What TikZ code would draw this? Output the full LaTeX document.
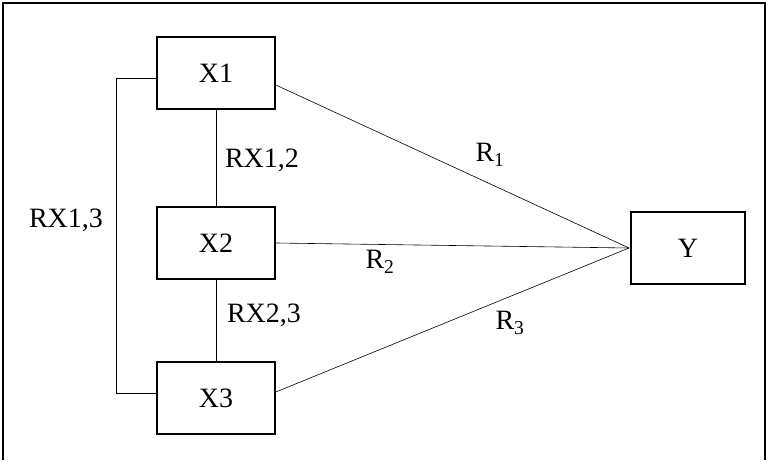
\documentclass[tikz,border=0pt]{standalone}
\usepackage{fontspec}
\setmainfont{Liberation Serif}
\begin{document}
\begin{tikzpicture}[x=1pt,y=-1pt,
  box/.style={draw,line width=1.6pt,minimum width=118pt,minimum height=72pt,font=\fontsize{28}{32}\selectfont},
  lbl/.style={font=\fontsize{28}{32}\selectfont},
  conn/.style={draw,line width=0.6pt}]
\useasboundingbox (0,0) rectangle (768,462);
\draw[line width=1.2pt] (3,460) -- (3,3) -- (765,3) -- (765,460);
\node[box] (X1) at (216,73) {X1};
\node[box] (X2) at (216,243) {X2};
\node[box] (X3) at (216,398) {X3};
\node[box,minimum width=114pt] (Y) at (688,248) {Y};
\coordinate (c) at (629,248);
\draw[conn] ([yshift=-12pt]X1.east) -- (c);
\draw[conn] (X2.east) -- (c);
\draw[conn] ([yshift=6pt]X3.east) -- (c);
\draw[conn] (X1.south) -- (X2.north);
\draw[conn] (X2.south) -- (X3.north);
\draw[conn] ([yshift=-5pt]X1.west) -| (116,393) -- ([yshift=5pt]X3.west);
\node[lbl] (l12) at (262,160) {RX1,2};
\node[lbl] (l13) at (66,220) {RX1,3};
\node[lbl] (l23) at (264,315) {RX2,3};
\node[lbl] (r1) at (490,155) {R\textsubscript{1}};
\node[lbl] (r2) at (380,262) {R\textsubscript{2}};
\node[lbl] (r3) at (510,323) {R\textsubscript{3}};
\end{tikzpicture}
\end{document}
